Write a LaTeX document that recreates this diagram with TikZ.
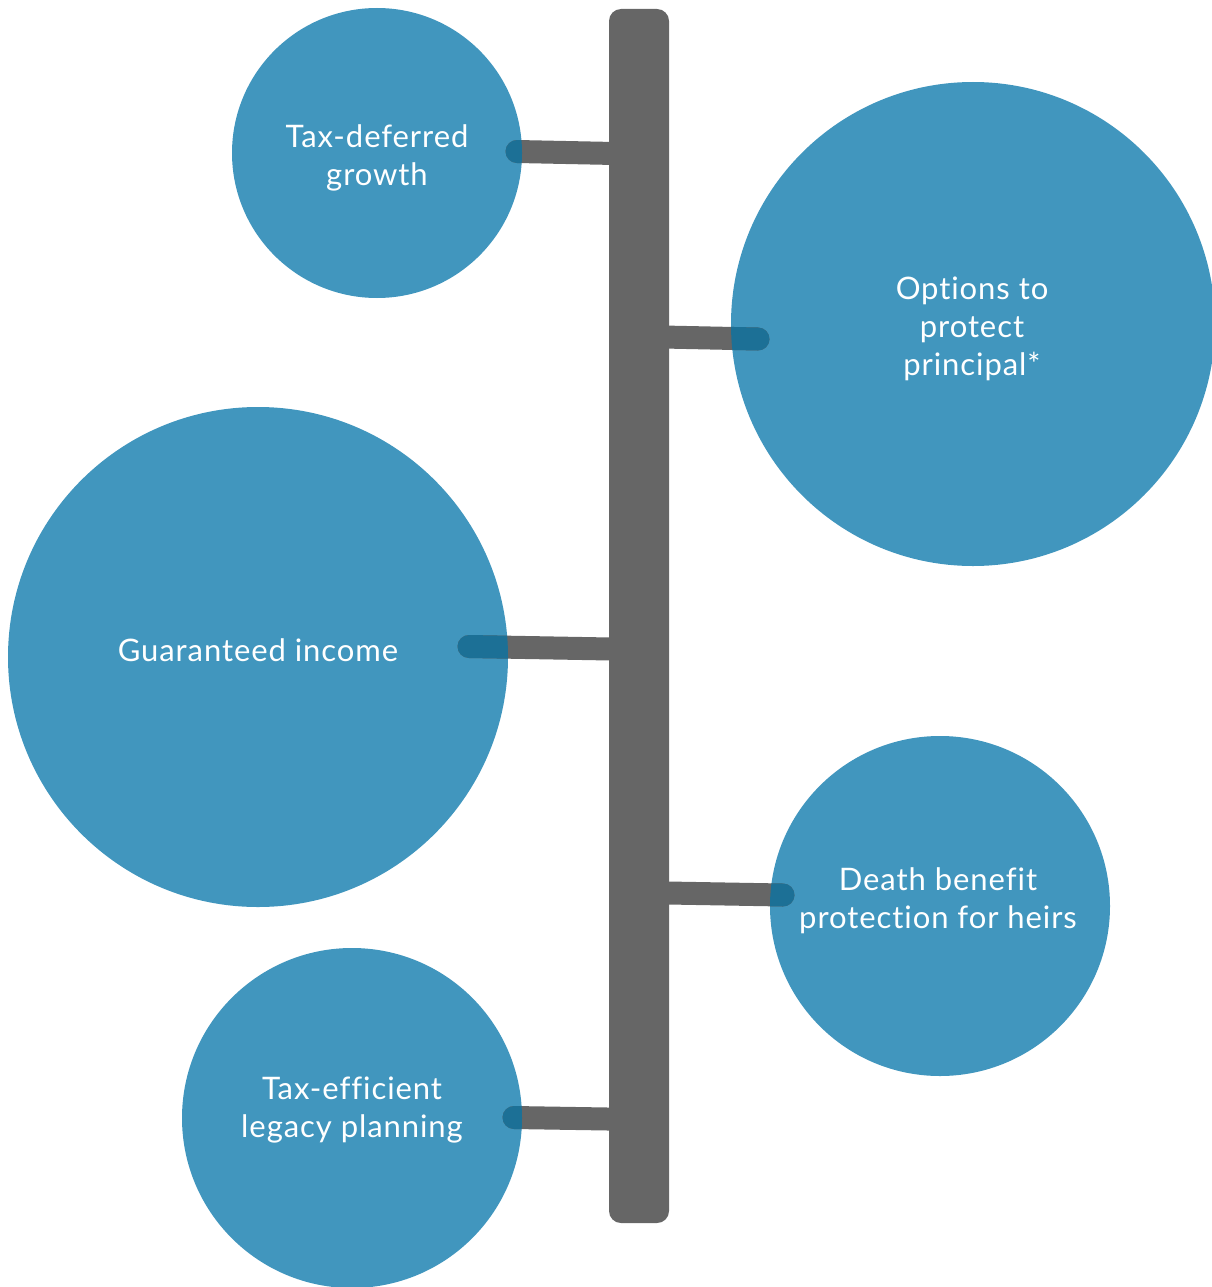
\documentclass[tikz,border=0pt]{standalone}
\usepackage{fontspec}
\setmainfont[LetterSpace=3,Ligatures={NoCommon,NoContextual}]{Lato}
\definecolor{bubble}{HTML}{4196BE}
\definecolor{overlap}{HTML}{1C7096}
\definecolor{stem}{HTML}{666666}
\begin{document}
\begin{tikzpicture}[x=1pt,y=-1pt,
  bubblenode/.style={circle,fill=bubble,draw=none,inner sep=0pt},
  labeltext/.style={text=white,align=center,font=\fontsize{31}{38}\selectfont},
  branch/.style={draw=stem,line width=23pt,line cap=round},
  branchin/.style={draw=overlap,line width=23pt,line cap=round}]
\useasboundingbox (0,0) rectangle (1212,1287);
% bubbles
\node[bubblenode,minimum size=290pt] (b1) at (377,153) {};
\node[bubblenode,minimum size=484pt] (b2) at (973,324) {};
\node[bubblenode,minimum size=500pt] (b3) at (258,657) {};
\node[bubblenode,minimum size=340pt] (b4) at (940,906) {};
\node[bubblenode,minimum size=340pt] (b5) at (352,1118) {};
% bar
\node[fill=stem,rounded corners=12pt,minimum width=60pt,minimum height=1214pt,inner sep=0pt] (bar) at (639,616) {};
% connector end points
\coordinate (e1) at (517,151.5);
\coordinate (k1) at (639,154);
\coordinate (e2) at (758,339);
\coordinate (k2) at (639,336.5);
\coordinate (e3) at (469,646.5);
\coordinate (k3) at (639,649.5);
\coordinate (e4) at (783,895);
\coordinate (k4) at (639,892.5);
\coordinate (e5) at (514,1117.5);
\coordinate (k5) at (639,1119.5);
\foreach \i in {1,...,5}{
  \path[branch] (e\i) -- (k\i);
}
\begin{scope}\clip (b1.center) circle[radius=145pt]; \path[branchin] (e1) -- (k1);\end{scope}
\begin{scope}\clip (b2.center) circle[radius=242pt]; \path[branchin] (e2) -- (k2);\end{scope}
\begin{scope}\clip (b3.center) circle[radius=250pt]; \path[branchin] (e3) -- (k3);\end{scope}
\begin{scope}\clip (b4.center) circle[radius=170pt]; \path[branchin] (e4) -- (k4);\end{scope}
\begin{scope}\clip (b5.center) circle[radius=170pt]; \path[branchin] (e5) -- (k5);\end{scope}
% labels
\node[labeltext] (t1) at (377,158) {Tax-deferred\\growth};
\node[labeltext] (t2) at (972,329) {Options to\\protect\\principal*};
\node[labeltext] (t3) at (258,650) {Guaranteed income};
\node[labeltext] (t4) at (938,901) {Death benefit\\protection for heirs};
\node[labeltext] (t5) at (352,1110) {Tax-efficient\\legacy planning};
\end{tikzpicture}
\end{document}
